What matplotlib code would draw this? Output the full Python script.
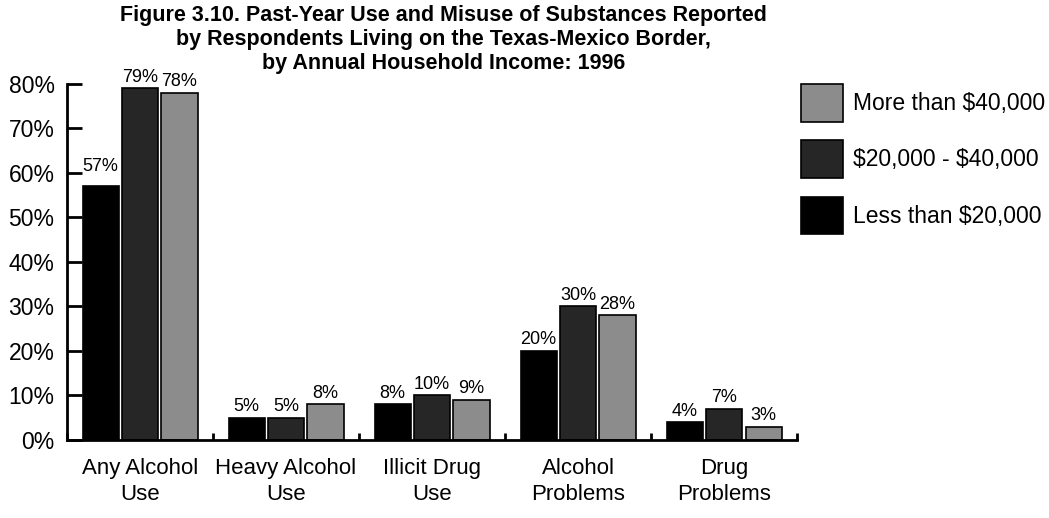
import matplotlib.pyplot as plt
import numpy as np

plt.rcParams['font.family'] = ['Liberation Sans', 'DejaVu Sans']

# data: past-year use / misuse by household income
categories = ['Any Alcohol\nUse', 'Heavy Alcohol\nUse', 'Illicit Drug\nUse',
              'Alcohol\nProblems', 'Drug\nProblems']
less_20k = [57, 5, 8, 20, 4]
mid_20k_40k = [79, 5, 10, 30, 7]
more_40k = [78, 8, 9, 28, 3]
series_names = ['Less than \\$20,000', '\\$20,000 - \\$40,000', 'More than \\$40,000']
colors = ['#000000', '#262626', '#8c8c8c']
title_lines = ['Figure 3.10. Past-Year Use and Misuse of Substances Reported',
               'by Respondents Living on the Texas-Mexico Border,',
               'by Annual Household Income: 1996']

fig = plt.figure(figsize=(10.49, 5.18), dpi=100)
ax = fig.add_axes([0.0639, 0.1506, 0.696, 0.6874])

x = np.arange(len(categories))
w = 0.247
step = 0.27
bars = []
for i, (vals, name, c) in enumerate(zip([less_20k, mid_20k_40k, more_40k],
                                        series_names, colors)):
    pos = x + (i - 1) * step
    b = ax.bar(pos, vals, width=w, color=c, edgecolor='black', linewidth=1.2,
               label=name)
    bars.append(b)
    for j, (xi, v) in enumerate(zip(pos, vals)):
        # first label sits a little higher, clear of the 60% tick
        lift = 2.0 if (i, j) == (0, 0) else 0.0
        ax.text(xi, v + 0.6 + lift, f'{v}%', ha='center', va='bottom', fontsize=13)

ax.set_xlim(-0.5, 4.5)
ax.set_ylim(0, 80)
ax.set_yticks(range(0, 81, 10))
ax.set_yticklabels([f'{v}%' for v in range(0, 81, 10)], fontsize=16.5)
ax.tick_params(axis='y', direction='in', length=11, width=2, pad=9)
ax.set_xticks(np.arange(-0.5, 5, 1))
ax.set_xticklabels([])
ax.tick_params(axis='x', direction='in', length=5, width=2)
for xi, lab in zip(x, categories):
    ax.text(xi, -4.0, lab, ha='center', va='top', fontsize=16, linespacing=1.3)

for s in ['top', 'right']:
    ax.spines[s].set_visible(False)
ax.spines['left'].set_linewidth(2)
ax.spines['bottom'].set_linewidth(2)

handles = [bars[2], bars[1], bars[0]]
fig.legend(handles, [series_names[2], series_names[1], series_names[0]],
           loc='upper left', bbox_to_anchor=(0.7636, 0.838), frameon=False,
           fontsize=16.5, handlelength=1.83, handleheight=2.15,
           labelspacing=0.82, handletextpad=0.44, borderpad=0, borderaxespad=0)

for k, line in enumerate(title_lines):
    fig.text(0.4225, 0.99 - k * 0.0465, line, ha='center', va='top',
             fontsize=15.5, fontweight='bold')

fig.savefig('out.png', dpi=100)
